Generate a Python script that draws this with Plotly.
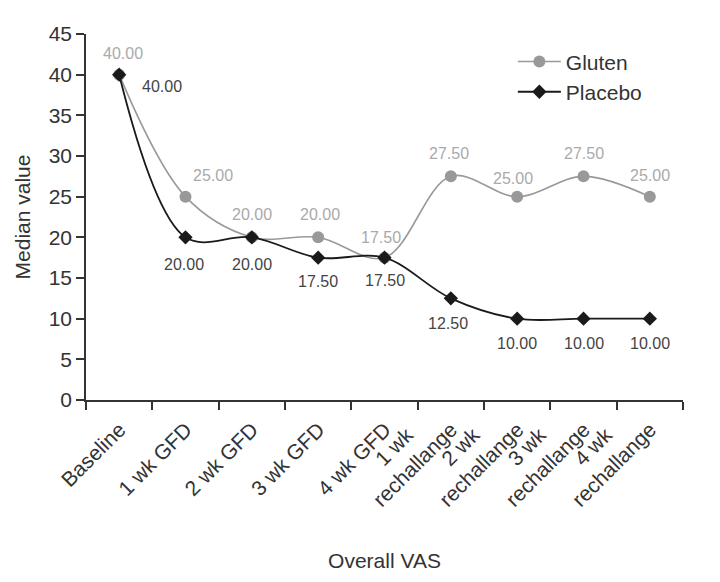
import plotly.graph_objects as go

categories = ["Baseline", "1 wk GFD", "2 wk GFD", "3 wk GFD", "4 wk GFD",
              "1 wk rechallange", "2 wk rechallange", "3 wk rechallange", "4 wk rechallange"]
NB = "\u00a0" * 6  # centres the short first line over "rechallange"
E = "\u00a0<br>"    # empty first line so every label has its last line on the tick
tick_labels = [E + "Baseline", E + "1 wk GFD", E + "2 wk GFD", E + "3 wk GFD", E + "4 wk GFD",
               "1 wk" + NB + "<br>rechallange", "2 wk" + NB + "<br>rechallange",
               "3 wk" + NB + "<br>rechallange", "4 wk" + NB + "<br>rechallange"]
gluten = [40.0, 25.0, 20.0, 20.0, 17.5, 27.5, 25.0, 27.5, 25.0]
placebo = [40.0, 20.0, 20.0, 17.5, 17.5, 12.5, 10.0, 10.0, 10.0]
y_ticks = [0, 5, 10, 15, 20, 25, 30, 35, 40, 45]

# label offsets in pixels (style only)
gluten_shift = [(4, 21), (27, 21), (0, 23), (2, 23), (-4, 20), (-2, 23), (-4, 18), (0, 23), (0, 21)]
placebo_shift = [(43, -12), (-2, -27), (0, -27), (0, -24), (0, -23), (-3, -25), (0, -25), (0, -25), (0, -25)]

FONT = "Liberation Sans, Arial, sans-serif"
TXT = "#333333"

fig = go.Figure()
fig.add_trace(go.Scatter(
    x=categories, y=gluten, name="Gluten", mode="lines+markers",
    line=dict(color="#999999", width=1.6, shape="spline", smoothing=1),
    marker=dict(symbol="circle", size=12, color="#999999"),
))
fig.add_trace(go.Scatter(
    x=categories, y=placebo, name="Placebo", mode="lines+markers",
    line=dict(color="#1a1a1a", width=1.8, shape="spline", smoothing=1),
    marker=dict(symbol="diamond", size=11, color="#1a1a1a"),
))

annotations = []
for c, v, (dx, dy) in zip(categories, gluten, gluten_shift):
    annotations.append(dict(x=c, y=v, text=f"{v:.2f}", showarrow=False, xshift=dx, yshift=dy,
                            font=dict(family=FONT, size=16, color="#aaaaaa")))
for c, v, (dx, dy) in zip(categories, placebo, placebo_shift):
    annotations.append(dict(x=c, y=v, text=f"{v:.2f}", showarrow=False, xshift=dx, yshift=dy,
                            font=dict(family=FONT, size=16, color="#444444")))

fig.update_layout(
    width=712, height=574,
    margin=dict(l=78, r=37, t=26, b=182),
    plot_bgcolor="white", paper_bgcolor="white",
    font=dict(family=FONT, size=21, color=TXT),
    showlegend=True,
    legend=dict(x=0.715, y=0.98, xanchor="left", yanchor="top", bgcolor="rgba(0,0,0,0)",
                font=dict(family=FONT, size=21, color=TXT), tracegroupgap=0, itemwidth=43),
    annotations=annotations,
    xaxis=dict(
        type="category", range=[-0.5, 8.5], tickson="boundaries",
        tickmode="array", tickvals=categories, ticktext=tick_labels,
        showline=True, linecolor="#333333", linewidth=1.5,
        ticks="outside", ticklen=8, tickwidth=1.5, tickcolor="#333333",
        tickangle=-45, tickfont=dict(family=FONT, size=21, color=TXT),
        ticklabelstandoff=-12, ticklabelshift=-19,
        showgrid=False, zeroline=False, automargin=False,
        title=dict(text="Overall VAS", font=dict(family=FONT, size=21, color=TXT), standoff=44),
    ),
    yaxis=dict(
        range=[0, 45], tickvals=y_ticks,
        showline=True, linecolor="#333333", linewidth=1.5,
        ticks="outside", ticklen=8, tickwidth=1.5, tickcolor="#333333",
        tickfont=dict(family=FONT, size=21, color=TXT),
        showgrid=False, zeroline=False, automargin=False,
        title=dict(text="Median value", font=dict(family=FONT, size=21, color=TXT), standoff=12),
    ),
)

fig.write_html("out.html")
